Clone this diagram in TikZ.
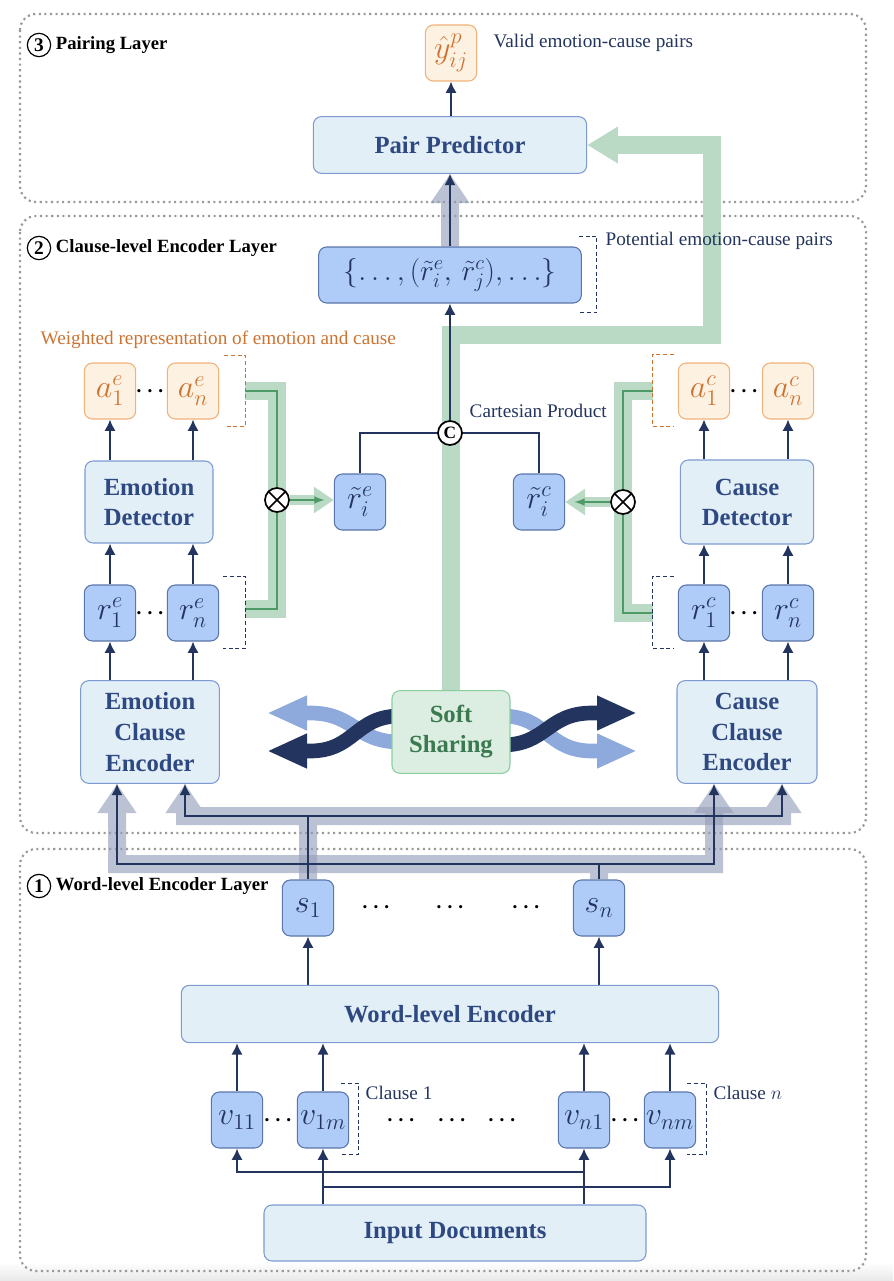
\RequirePackage{fix-cm}
\documentclass[tikz,border=0pt]{standalone}
\usepackage{amsmath}
\usepackage{fontspec}
\setmainfont{Liberation Serif}
\usetikzlibrary{positioning,arrows.meta,backgrounds}

\definecolor{navy}{RGB}{35,52,94}
\definecolor{txtblue}{RGB}{46,72,130}
\definecolor{boxfill}{RGB}{227,239,247}
\definecolor{boxline}{RGB}{125,155,210}
\definecolor{vecfill}{RGB}{175,203,248}
\definecolor{vecline}{RGB}{90,118,170}
\definecolor{orfill}{RGB}{253,242,225}
\definecolor{orline}{RGB}{240,178,122}
\definecolor{ortxt}{RGB}{205,115,50}
\definecolor{grlight}{RGB}{186,218,198}
\definecolor{grdark}{RGB}{78,154,102}
\definecolor{ssfill}{RGB}{220,237,226}
\definecolor{ssline}{RGB}{140,205,160}
\definecolor{sstxt}{RGB}{59,122,80}
\definecolor{twlight}{RGB}{142,169,220}
\definecolor{bandc}{RGB}{148,159,185}

\begin{document}
\begin{tikzpicture}[
  x=0.75pt, y=-0.75pt,
  module/.style={draw=boxline, fill=boxfill, line width=0.8pt, rounded corners=6pt,
    align=center, text=txtblue, font=\fontsize{18.5}{22.5}\selectfont\bfseries},
  vec/.style={draw=vecline, fill=vecfill, line width=0.8pt, rounded corners=6pt,
    minimum width=38.5pt, minimum height=42pt, inner sep=0pt, text=navy,
    font=\fontsize{24}{24}\selectfont},
  att/.style={vec, draw=orline, fill=orfill, text=ortxt},
  note/.style={text=navy, font=\fontsize{14.4}{17}\selectfont, anchor=west},
  lbl/.style={font=\fontsize{14}{16}\selectfont\bfseries, anchor=west},
  numc/.style={draw, circle, line width=0.9pt, minimum size=17.5pt, inner sep=0pt,
    font=\fontsize{14.5}{14.5}\selectfont\bfseries},
  prodc/.style={draw, circle, fill=white, line width=1.3pt, minimum size=18pt,
    inner sep=0pt, font=\fontsize{13}{13}\selectfont\bfseries},
  crossc/.style={prodc, path picture={
    \draw[line width=1.3pt] (path picture bounding box.north west) -- (path picture bounding box.south east)
      (path picture bounding box.north east) -- (path picture bounding box.south west);}},
  dotsep/.style={font=\fontsize{16}{16}\selectfont, inner sep=0pt},
  flow/.style={-{Latex[length=8.5pt,width=8.5pt]}, navy, line width=1.5pt},
  band/.style={draw=bandc, line width=13.5pt, -{Triangle[length=22pt,width=28pt]}},
  grwide/.style={draw=grlight, line width=14pt},
  grpair/.style={draw=grdark, line width=1.8pt, preaction={draw=grlight, line width=13.5pt}},
  layerbox/.style={draw=gray!80, line width=1.6pt, dash pattern=on 1.6pt off 2.6pt, rounded corners=12pt},
  dbrack/.style={draw=navy, line width=0.9pt, dash pattern=on 3pt off 2pt},
  twist/.style={line width=11pt, -{Triangle[length=30pt,width=24pt]}}
  ]
  \useasboundingbox (0,0) rectangle (893,1281);

  \node[numc] (NL3) at (39,45) {3};
  \node[lbl] (NL3t) at (NL3.east) {Pairing Layer};
  \node[numc] (NL2) at (39,248) {2};
  \node[lbl] (NL2t) at (NL2.east) {Clause-level Encoder Layer};
  \node[numc] (NL1) at (39,886) {1};
  \node[lbl] (NL1t) at (NL1.east) {Word-level Encoder Layer};

  \node[att] (NYhat) at (451,53) {$\hat{y}^{p}_{ij}$};
  \node[note] (NValid) at (489,43) {Valid emotion-cause pairs};
  \node[module, minimum width=205pt, minimum height=42.5pt] (NPred) at (450,145) {Pair Predictor};
  \node[vec, minimum width=197pt, font=\fontsize{22}{22}\selectfont] (NPairs) at (450,275)
    {$\{\ldots,(\tilde{r}^{e}_{i},\,\tilde{r}^{c}_{j}),\ldots\}$};
  \node[note] (NPot) at (601,241) {Potential emotion-cause pairs};
  \node[note, text=ortxt] (NWeight) at (36,340) {Weighted representation of emotion and cause};

  \node[att] (NAe1) at (110,391) {$a^{e}_{1}$};
  \node[att] (NAen) at (193,391) {$a^{e}_{n}$};
  \node[module, minimum width=96pt, minimum height=61.5pt] (NEmoDet) at (149,502) {Emotion\\Detector};
  \node[vec] (NRe1) at (110,613) {$r^{e}_{1}$};
  \node[vec] (NRen) at (193,613) {$r^{e}_{n}$};
  \node[module, minimum width=104pt, minimum height=77pt,
    font=\fontsize{18.5}{23}\selectfont\bfseries] (NEmoEnc) at (150,732) {Emotion\\Clause\\Encoder};

  \node[att] (NAc1) at (704,391) {$a^{c}_{1}$};
  \node[att] (NAcn) at (788,391) {$a^{c}_{n}$};
  \node[module, minimum width=100pt, minimum height=63pt] (NCauDet) at (747,502) {Cause\\Detector};
  \node[vec] (NRc1) at (704,613) {$r^{c}_{1}$};
  \node[vec] (NRcn) at (788,613) {$r^{c}_{n}$};
  \node[module, minimum width=105pt, minimum height=77pt,
    font=\fontsize{18.5}{23}\selectfont\bfseries] (NCauEnc) at (747,732) {Cause\\Clause\\Encoder};

  \node[vec] (NRte) at (360,502) {$\tilde{r}^{e}_{i}$};
  \node[vec] (NRtc) at (539,502) {$\tilde{r}^{c}_{i}$};
  \node[prodc] (NCart) at (450,433) {C};
  \node[note] (NCartLbl) at (465,411) {Cartesian Product};
  \node[crossc] (NOte) at (277,500) {};
  \node[crossc] (NOtc) at (623,502) {};
  \node[module, draw=ssline, fill=ssfill, text=sstxt, minimum width=88.5pt,
    minimum height=62pt] (NSoft) at (451,732) {Soft\\Sharing};

  \node[vec] (NS1) at (308,908) {$s_{1}$};
  \node[vec] (NSn) at (599,908) {$s_{n}$};
  \node[module, minimum width=403pt, minimum height=43pt] (NWord) at (450,1014) {Word-level Encoder};
  \node[vec] (NV11) at (237,1120) {$v_{11}$};
  \node[vec] (NV1m) at (323,1120) {$v_{1m}$};
  \node[vec] (NVn1) at (584,1120) {$v_{n1}$};
  \node[vec] (NVnm) at (670,1120) {$v_{nm}$};
  \node[note] (NCl1) at (361,1093) {Clause 1};
  \node[note] (NCln) at (709,1093) {Clause $n$};
  \node[module, minimum width=286.5pt, minimum height=42pt] (NInput) at (455,1233) {Input Documents};

  \foreach \dx/\dy [count=\i] in {152/391, 152/613, 746/391, 746/613, 378/907, 452/907, 528/907,
      280/1120, 403/1120, 454/1120, 504/1120, 627/1120}
    \node[dotsep] (NDot\i) at (\dx,\dy) {$\boldsymbol{\cdots}$};

  \coordinate (GTurn) at (712,335);
  \coordinate (JA) at (308,816);
  \coordinate (JB) at (599,864);
  \coordinate (SsL1) at (400,742);
  \coordinate (SsL2) at (400,716);
  \coordinate (SsR1) at (502,716);
  \coordinate (SsR2) at (502,745);
  \coordinate (TwL1) at (267,713);
  \coordinate (TwL2) at (267,751);
  \coordinate (TwR1) at (637,713);
  \coordinate (TwR2) at (637,751);
  \path (NEmoEnc.south) ++(-33,0) coordinate (EmoInL) ++(68,0) coordinate (EmoInR);
  \path (NCauEnc.south) ++(-33,0) coordinate (CauInL) ++(68,0) coordinate (CauInR);
  \path (NAen.east) ++(26,0) coordinate (BrAe);
  \path (NRen.east) ++(26,-4) coordinate (BrRe);
  \path (NAc1.west) ++(-25,0) coordinate (BrAc);
  \path (NRc1.west) ++(-25,0) coordinate (BrRc);

  \begin{pgfonlayer}{background}
    \shade[top color=white, bottom color=gray!18] (0,1262) rectangle (893,1281);
    \draw[layerbox] (20,14) rectangle (866,202);
    \draw[layerbox] (20,216) rectangle (866,833);
    \draw[layerbox] (20,849) rectangle (866,1271);

    \draw[grwide, -{Triangle[length=23pt,width=26pt]}] (NSoft.north) |- (GTurn) |- (NPred.east);
    \draw[grpair] (BrAe) -| (NOte.center) |- (BrRe);
    \draw[grpair] (BrAc) -| (NOtc.center) |- (BrRc);
    \draw[grlight, line width=7.5pt, -{Triangle[length=15pt,width=19pt]}] (NOte.east) -- (NOte.east -| NRte.west);
    \draw[grdark, line width=1.6pt, -latex, shorten >=7pt] (NOte.east) -- (NOte.east -| NRte.west);
    \draw[grlight, line width=7.5pt, -{Triangle[length=15pt,width=19pt]}] (NOtc.west) -- (NOtc.west -| NRtc.east);
    \draw[grdark, line width=1.6pt, -latex, shorten >=7pt] (NOtc.west) -- (NOtc.west -| NRtc.east);

    \draw[twist, twlight] (SsL1) .. controls (355,742) and (355,713) .. (310,713) -- (TwL1);
    \draw[twist, navy] (SsL2) .. controls (355,716) and (355,751) .. (310,751) -- (TwL2);
    \draw[twist, twlight] (SsR1) .. controls (547,716) and (547,751) .. (592,751) -- (TwR2);
    \draw[twist, navy] (SsR2) .. controls (547,745) and (547,713) .. (592,713) -- (TwR1);

    \begin{scope}[transparency group, opacity=0.63]
      \draw[band] (NPairs.north) -- (NPred.south);
    \end{scope}
    \begin{scope}[transparency group, opacity=0.63]
      \draw[band] (NSn.north) -- (JB) -| (EmoInL);
      \draw[band] (JB) -| (CauInL);
    \end{scope}
    \begin{scope}[transparency group, opacity=0.63]
      \draw[band] (NS1.north) -- (JA) -| (EmoInR);
      \draw[band] (JA) -| (CauInR);
    \end{scope}
    \draw[flow] (NSn.north) -- (JB) -| (EmoInL);
    \draw[flow] (JB) -| (CauInL);
    \draw[flow] (NS1.north) -- (JA) -| (EmoInR);
    \draw[flow] (JA) -| (CauInR);

    \draw[navy, line width=1.3pt] (NRte.north) |- (NCart.center) -| (NRtc.north);

    \path[flow]
      (NCart.north) edge (NPairs.south)
      (NPairs.north) edge (NPred.south)
      (NPred.north -| NYhat) edge (NYhat.south)
      (NEmoDet.north -| NAe1) edge (NAe1.south)
      (NEmoDet.north -| NAen) edge (NAen.south)
      (NRe1.north) edge (NEmoDet.south -| NRe1)
      (NRen.north) edge (NEmoDet.south -| NRen)
      (NEmoEnc.north -| NRe1) edge (NRe1.south)
      (NEmoEnc.north -| NRen) edge (NRen.south)
      (NCauDet.north -| NAc1) edge (NAc1.south)
      (NCauDet.north -| NAcn) edge (NAcn.south)
      (NRc1.north) edge (NCauDet.south -| NRc1)
      (NRcn.north) edge (NCauDet.south -| NRcn)
      (NCauEnc.north -| NRc1) edge (NRc1.south)
      (NCauEnc.north -| NRcn) edge (NRcn.south)
      (NWord.north -| NS1) edge (NS1.south)
      (NWord.north -| NSn) edge (NSn.south)
      (NV11.north) edge (NWord.south -| NV11)
      (NV1m.north) edge (NWord.south -| NV1m)
      (NVn1.north) edge (NWord.south -| NVn1)
      (NVnm.north) edge (NWord.south -| NVnm)
      (NInput.north -| NV1m) edge (NV1m.south)
      (NInput.north -| NVn1) edge (NVn1.south);
    \draw[flow] (NInput.north -| NV1m) ++(0,-17) -| (NVnm.south);
    \draw[flow] (NInput.north -| NVn1) ++(0,-32) -| (NV11.south);

    \draw[dbrack] (NPairs.north east) ++(-3,-10) -- ++(18,0) -- ++(0,76) -- ++(-18,0);
    \draw[dbrack, draw=ortxt] (NAen.north east) ++(5,-7) -- ++(21,0) -- ++(0,71) -- ++(-21,0);
    \draw[dbrack] (NRen.north east) ++(4,-8) -- ++(22,0) -- ++(0,72) -- ++(-22,0);
    \draw[dbrack, draw=ortxt] (NAc1.north west) ++(-4,-8) -- ++(-21,0) -- ++(0,72) -- ++(21,0);
    \draw[dbrack] (NRc1.north west) ++(-4,-8) -- ++(-21,0) -- ++(0,72) -- ++(21,0);
    \draw[dbrack] (NV1m.north east) ++(-8,-8) -- ++(17,0) -- ++(0,71) -- ++(-17,0);
    \draw[dbrack] (NVnm.north east) ++(-9,-8) -- ++(19,0) -- ++(0,71) -- ++(-19,0);
  \end{pgfonlayer}
\end{tikzpicture}
\end{document}
